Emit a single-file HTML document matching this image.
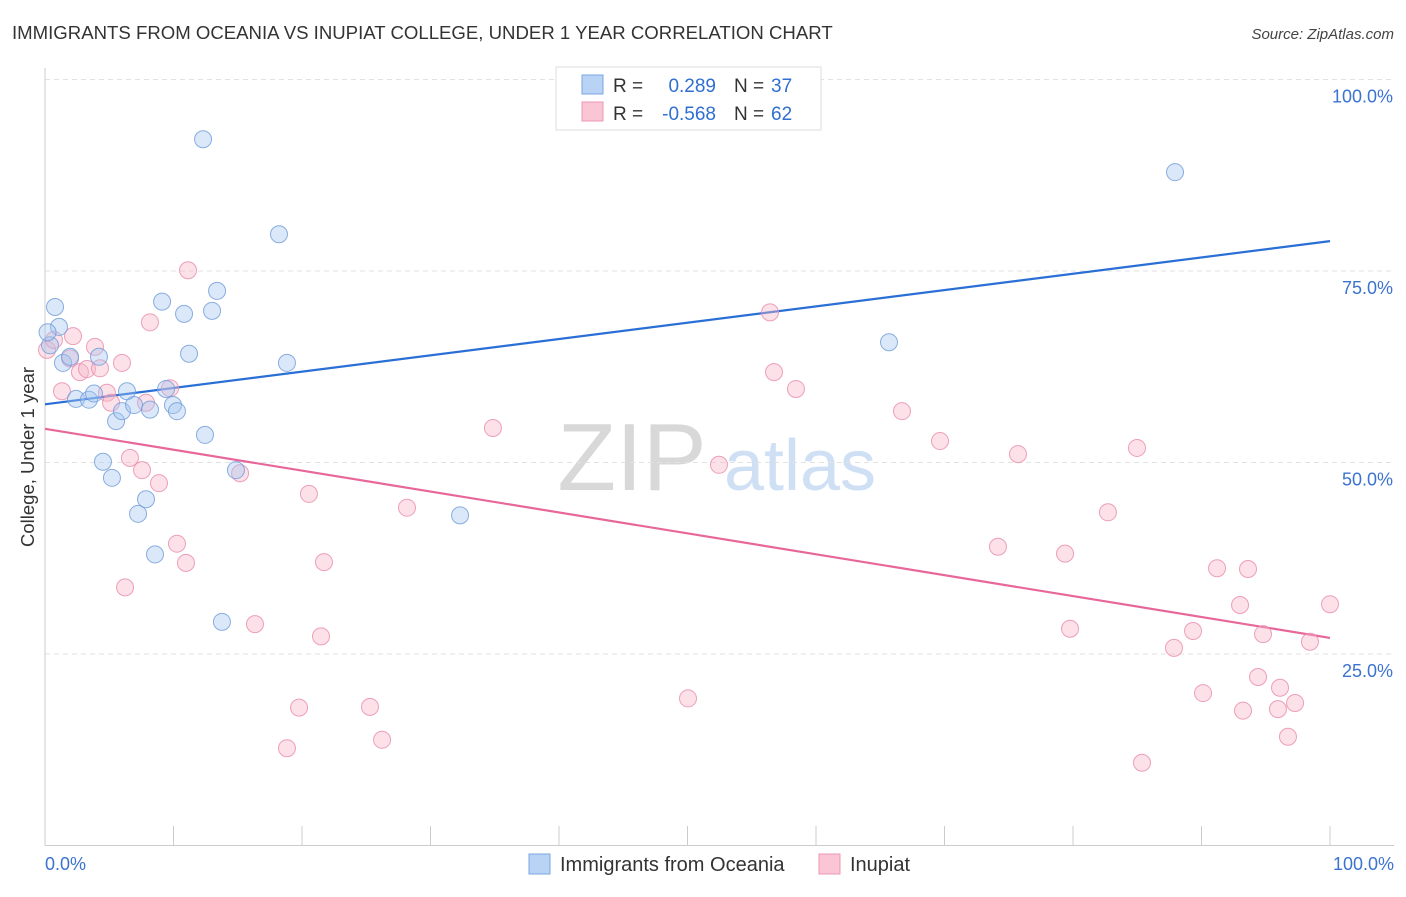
<!DOCTYPE html>
<html><head><meta charset="utf-8"><style>
body{margin:0;background:#fff;font-family:"Liberation Sans",sans-serif;}
svg text{font-family:"Liberation Sans",sans-serif;}
</style></head><body>
<svg id="chart" width="1406" height="892" xmlns="http://www.w3.org/2000/svg">
<text x="12" y="39" font-size="18.6" fill="#333">IMMIGRANTS FROM OCEANIA VS INUPIAT COLLEGE, UNDER 1 YEAR CORRELATION CHART</text>
<text x="1394" y="39" font-size="15" fill="#444" font-style="italic" text-anchor="end">Source: ZipAtlas.com</text>
<g>
<text x="632" y="490" font-size="96" fill="#d8d8d8" text-anchor="middle" font-family="Liberation Serif">ZIP</text>
<text x="800" y="490" font-size="72" fill="#cfe0f5" text-anchor="middle">atlas</text>
</g>
<g id="grid"></g>
<g id="axes"></g>
<g id="lines"></g>
<g id="points"></g>
<text transform="translate(34,457) rotate(-90)" font-size="18.5" fill="#333" text-anchor="middle">College, Under 1 year</text>
<g>
<rect x="556" y="67" width="265" height="63" fill="#fff" stroke="#ddd"/>
<rect x="582" y="75" width="21" height="19" fill="#b9d3f5" stroke="#7aa6e3"/>
<rect x="582" y="102" width="21" height="19" fill="#fac5d5" stroke="#ec98b5"/>
<text x="613" y="92" font-size="19" fill="#333">R =</text>
<text x="716" y="92" font-size="19" fill="#2f6fd0" text-anchor="end">0.289</text>
<text x="734" y="92" font-size="19" fill="#333">N =</text>
<text x="771" y="92" font-size="19" fill="#2f6fd0">37</text>
<text x="613" y="120" font-size="19" fill="#333">R =</text>
<text x="716" y="120" font-size="19" fill="#2f6fd0" text-anchor="end">-0.568</text>
<text x="734" y="120" font-size="19" fill="#333">N =</text>
<text x="771" y="120" font-size="19" fill="#2f6fd0">62</text>
</g>
<g>
<rect x="529" y="854" width="21" height="20" fill="#b9d3f5" stroke="#7aa6e3"/>
<text x="560" y="871" font-size="20" fill="#333">Immigrants from Oceania</text>
<rect x="819" y="854" width="21" height="20" fill="#fac5d5" stroke="#ec98b5"/>
<text x="850" y="871" font-size="20" fill="#333">Inupiat</text>
</g>
</svg>
<script>
const blueX=[0.39,0.78,1.09,1.40,1.95,2.41,3.42,3.81,4.20,5.53,5.99,6.38,6.93,8.17,9.42,9.96,10.27,4.51,5.21,7.24,7.86,8.56,9.11,10.82,11.21,12.30,13.00,13.39,12.45,14.86,13.77,18.21,18.83,32.30,65.68,87.94,0.2];
const blueY=[65.3,70.3,67.7,63.0,63.8,58.3,58.2,59.0,63.8,55.4,56.7,59.3,57.5,56.9,59.6,57.5,56.7,50.1,48.0,43.3,45.2,38.0,71.0,69.4,64.2,92.2,69.8,72.4,53.6,49.0,29.2,79.8,63.0,43.1,65.7,87.9,67.0];
const pinkX=[0.16,0.70,1.32,2.18,1.95,2.72,3.27,3.89,4.28,4.82,5.14,5.99,6.23,6.61,7.55,7.86,8.17,8.87,9.73,10.27,10.97,11.13,15.18,16.34,18.83,19.77,20.54,21.48,21.71,25.29,26.23,28.17,34.86,50.04,52.45,56.42,56.73,58.44,66.69,69.65,74.16,75.72,79.38,79.77,82.72,84.98,85.37,87.86,89.34,90.12,91.21,93.00,93.23,93.62,94.40,94.79,96.11,95.95,96.73,97.28,98.44,100];
const pinkY=[64.7,66.0,59.3,66.5,63.6,61.8,62.2,65.1,62.3,59.1,57.8,63.0,33.7,50.6,49.0,57.8,68.3,47.3,59.7,39.4,36.9,75.1,48.6,28.9,12.7,18.0,45.9,27.3,37.0,18.1,13.8,44.1,54.5,19.2,49.7,69.6,61.8,59.6,56.7,52.8,39.0,51.1,38.1,28.3,43.5,51.9,10.8,25.8,28.0,19.9,36.2,31.4,17.6,36.1,22.0,27.6,20.6,17.8,14.2,18.6,26.6,31.5];
const blueTrend=[57.6,78.9];
const pinkTrend=[54.4,27.1];
const yTicks=[25,50,75,100];
const yTickLabels=["25.0%","50.0%","75.0%","100.0%"];
const xTickCount=10;

const NS="http://www.w3.org/2000/svg";
const X0=45,X1=1330,YB=845.5,YT=79.5;
const sx=v=>X0+(X1-X0)*v/100;
const sy=v=>YB-(YB-YT)*v/100;
function mk(t,a,p){const e=document.createElementNS(NS,t);for(const k in a)e.setAttribute(k,a[k]);p.appendChild(e);return e;}
const grid=document.getElementById('grid'),axes=document.getElementById('axes'),lines=document.getElementById('lines'),pts=document.getElementById('points');
yTicks.forEach((v,i)=>{
 const l=mk('line',{x1:X0,x2:1394,y1:sy(v),y2:sy(v),stroke:'#e2e2e2','stroke-dasharray':'5,4'},grid);
 
 
 const t=mk('text',{x:1393,y:sy(v)+23,'font-size':18,fill:'#3b73cf','text-anchor':'end'},axes);
 t.textContent=yTickLabels[i];
 
 
});
const ax=mk('line',{x1:X0,x2:1394,y1:YB,y2:YB,stroke:'#ccc'},axes);


const ay=mk('line',{x1:X0,x2:X0,y1:68,y2:YB,stroke:'#ccc'},axes);


for(let i=0;i<=xTickCount;i++){
 const tk=mk('line',{x1:sx(i*100/xTickCount),x2:sx(i*100/xTickCount),y1:826,y2:YB,stroke:'#ccc'},axes);
 
 
}
const xl=mk('text',{x:45,y:870,'font-size':18,fill:'#3b73cf'},axes);xl.textContent='0.0%';


const xr=mk('text',{x:1394,y:870,'font-size':18,fill:'#3b73cf','text-anchor':'end'},axes);xr.textContent='100.0%';


function series(xs,ys,fill,stroke,name){
 xs.forEach((x,i)=>{
  const c=mk('circle',{cx:sx(x),cy:sy(ys[i]),r:8.5,fill:fill,'fill-opacity':0.4,stroke:stroke,'stroke-width':1,'stroke-opacity':0.8},pts);
  
  
 });
}
series(pinkX,pinkY,'#f7b3c8','#e88aab','inupiat');
series(blueX,blueY,'#a6c6f0','#6e9bd8','oceania');
const bl=mk('line',{x1:sx(0),y1:sy(blueTrend[0]),x2:sx(100),y2:sy(blueTrend[1]),stroke:'#2a6fd6','stroke-width':2.2},lines);


const pl=mk('line',{x1:sx(0),y1:sy(pinkTrend[0]),x2:sx(100),y2:sy(pinkTrend[1]),stroke:'#e8679a','stroke-width':2.2},lines);


</script>
</body></html>
